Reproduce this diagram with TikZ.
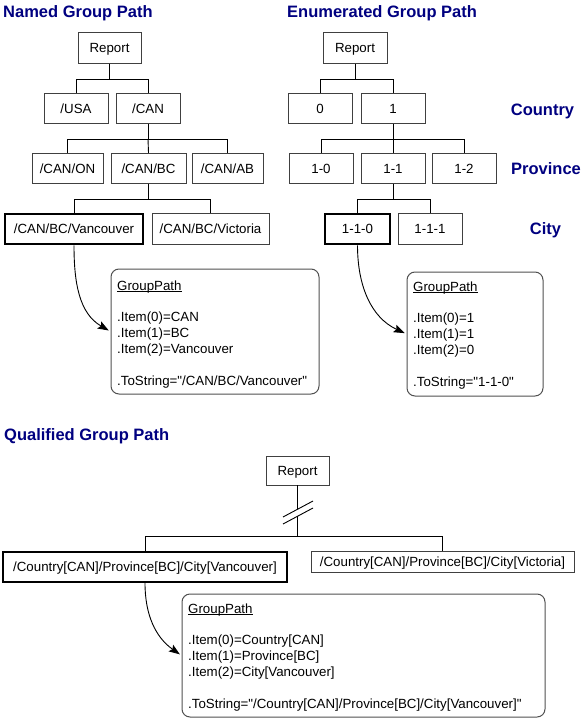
\documentclass[tikz,border=0pt]{standalone}
\usepackage{fontspec}
\setmainfont{Liberation Sans}
\newfontfamily\qfont{Liberation Sans}
\usetikzlibrary{arrows.meta}
\definecolor{navy}{RGB}{0,0,128}
\definecolor{boxgray}{RGB}{64,64,64}
\definecolor{calgray}{RGB}{80,80,80}
\newcommand\gpu{\underline{\smash{GroupPath}}}
\newcommand\cfont{\qfont\fontsize{13.3}{15.9}\selectfont}
\begin{document}
\begin{tikzpicture}[
  box/.style={draw=boxgray, line width=0.9pt, minimum height=30.5pt, inner sep=0pt,
    font=\cfont, text height=9.5pt, text depth=0pt},
  selbox/.style={box, draw=black, line width=2.2pt},
  callout/.style={draw=calgray, line width=1pt, rounded corners=8pt, inner sep=0pt},
  title/.style={font=\qfont\fontsize{16.5}{19}\selectfont\bfseries, text=navy, anchor=base west, inner sep=0pt},
  level/.style={font=\qfont\fontsize{16.5}{19}\selectfont\bfseries, text=navy, anchor=base, inner sep=0pt},
  conn/.style={draw=black, line width=0.9pt},
  pointer/.style={conn, shorten >=2pt, -{Stealth[length=11pt,width=8pt,inset=2pt]}},
  ctext/.style={anchor=base west, inner sep=0pt, font=\cfont},
]
\useasboundingbox (0,0) rectangle (582pt,-719pt);
\begin{scope}[x=1pt,y=1pt]
% titles
\node[title] (t1) at (3,-18) {Named Group Path};
\node[title] (t2) at (287,-17.5) {Enumerated Group Path};
\node[title] (t3) at (4,-440) {Qualified Group Path};
\node[level] (lc) at (542.5,-116) {Country};
\node[level] (lp) at (546,-175) {Province};
\node[level] (lt) at (545.5,-234) {City};

% ---------- named tree
\node[box, minimum width=63pt] (rep1) at (109.5,-48) {Report};
\node[box, minimum width=64pt] (usa) at (76,-108.5) {/USA};
\node[box, minimum width=64pt] (can) at (148,-108.5) {/CAN};
\node[box, minimum width=71pt] (on) at (67.5,-168.5) {/CAN/ON};
\node[box, minimum width=75pt] (bc) at (148.5,-168.5) {/CAN/BC};
\node[box, minimum width=71pt] (ab) at (227.5,-168.5) {/CAN/AB};
\node[selbox, minimum width=138pt] (van) at (74,-229) {/CAN/BC/Vancouver};
\node[box, minimum width=117pt] (vic) at (210.5,-229) {/CAN/BC/Victoria};
\coordinate (j1) at (109.5,-79);
\coordinate (j2) at (148,-139);
\coordinate (j3) at (148.5,-199);
\draw[conn] (rep1.south) -- (j1) -| (usa.north);
\draw[conn] (j1) -| (can.north);
\draw[conn] (can.south) -- (j2) -| (on.north);
\draw[conn] (j2) -- (bc.north);
\draw[conn] (j2) -| (ab.north);
\draw[conn] (bc.south) -- (j3) -| (van.north);
\draw[conn] (j3) -| (vic.north);
\node[callout, minimum width=208pt, minimum height=125pt] (cal1) at (215,-331.5) {};
\node[ctext] (txt1) at (117,-290) {\parbox[t]{200pt}{\raggedright\gpu\\ \strut\\ .Item(0)=CAN\\ .Item(1)=BC\\ .Item(2)=Vancouver\\ \strut\\ .ToString="/CAN/BC/Vancouver"}};
\draw[pointer] (van.south) to[out=-90,in=150] (cal1.west);

% ---------- enumerated tree
\node[box, minimum width=64pt] (rep2) at (355,-48) {Report};
\node[box, minimum width=64pt] (n0) at (320,-108.5) {0};
\node[box, minimum width=64pt] (n1) at (393,-108.5) {1};
\node[box, minimum width=64pt] (n10) at (321,-168.5) {1-0};
\node[box, minimum width=64pt] (n11) at (393,-168.5) {1-1};
\node[box, minimum width=64pt] (n12) at (464,-168.5) {1-2};
\node[selbox, minimum width=65pt] (n110) at (357.5,-229) {1-1-0};
\node[box, minimum width=64pt] (n111) at (430,-229) {1-1-1};
\coordinate (j4) at (355,-79);
\coordinate (j5) at (393,-139);
\coordinate (j6) at (393,-199);
\draw[conn] (rep2.south) -- (j4) -| (n0.north);
\draw[conn] (j4) -| (n1.north);
\draw[conn] (n1.south) -- (j5) -| (n10.north);
\draw[conn] (j5) -- (n11.north);
\draw[conn] (j5) -| (n12.north);
\draw[conn] (n11.south) -- (j6) -| (n110.north);
\draw[conn] (j6) -| (n111.north);
\node[callout, minimum width=136pt, minimum height=124pt] (cal2) at (475,-334) {};
\node[ctext] (txt2) at (413,-291) {\parbox[t]{130pt}{\raggedright\gpu\\ \strut\\ .Item(0)=1\\ .Item(1)=1\\ .Item(2)=0\\ \strut\\ .ToString="1-1-0"}};
\draw[pointer] (n110.south) to[out=-90,in=155] (cal2.west);

% ---------- qualified
\node[box, minimum width=63pt, minimum height=29pt] (rep3) at (297.5,-470.5) {Report};
\node[selbox, minimum width=284pt, minimum height=30pt] (van3) at (145,-567) {/Country[CAN]/Province[BC]/City[Vancouver]};
\node[box, minimum width=263pt, minimum height=21pt] (vic3) at (442.5,-561.5) {/Country[CAN]/Province[BC]/City[Victoria]};
\coordinate (b1) at (297.5,-509);
\coordinate (b2) at (297.5,-516);
\coordinate (j7) at (297.5,-536);
\draw[conn] (rep3.south) -- (b1);
\draw[conn] (b2) -- (j7);
\draw[conn] (j7) -| (van3.north);
\draw[conn] (j7) -| (vic3.north);
\draw[conn] (283,-517) -- (313,-501);
\draw[conn] (283,-524) -- (313,-508);
\node[callout, minimum width=363pt, minimum height=123pt] (cal3) at (363.5,-655.5) {};
\node[ctext] (txt3) at (188,-613) {\parbox[t]{355pt}{\raggedright\gpu\\ \strut\\ .Item(0)=Country[CAN]\\ .Item(1)=Province[BC]\\ .Item(2)=City[Vancouver]\\ \strut\\ .ToString="/Country[CAN]/Province[BC]/City[Vancouver]"}};
\draw[pointer] (van3.south) to[out=-90,in=145] (cal3.west);
\end{scope}
\end{tikzpicture}
\end{document}
